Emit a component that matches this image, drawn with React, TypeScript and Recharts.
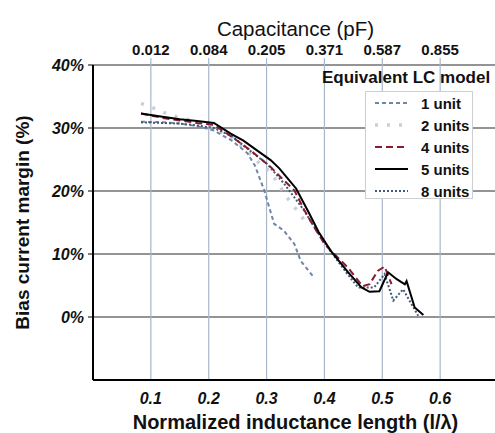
import { LineChart, Line, XAxis, YAxis, CartesianGrid, ReferenceLine } from "recharts";

// bottom axis: normalized inductance length, top axis: matching capacitance
const xTicks = [0.1, 0.2, 0.3, 0.4, 0.5, 0.6];
const capLabels = ["0.012", "0.084", "0.205", "0.371", "0.587", "0.855"];
const yTicks = [0, 10, 20, 30, 40];

// [l/λ, margin %]
const unit1 = [
  [0.083, 31.0], [0.12, 30.9], [0.15, 30.7], [0.18, 30.3], [0.209, 29.6], [0.24, 28.0],
  [0.267, 26.0], [0.28, 24.0], [0.296, 20.1], [0.313, 14.8], [0.33, 13.7], [0.348, 11.6],
  [0.359, 8.9], [0.38, 6.5],
];
const units2 = [
  [0.083, 33.9], [0.109, 33.0], [0.134, 32.0], [0.16, 31.5], [0.2, 30.3], [0.24, 28.5],
  [0.27, 26.0], [0.29, 24.2], [0.307, 23.0], [0.322, 20.9], [0.336, 18.9], [0.352, 17.0],
  [0.368, 15.0],
];
const units4 = [
  [0.083, 32.3], [0.12, 31.6], [0.15, 31.2], [0.18, 30.8], [0.209, 30.5], [0.24, 28.6],
  [0.273, 26.4], [0.307, 23.8], [0.33, 21.7], [0.348, 20.1], [0.365, 17.0], [0.38, 14.6],
  [0.4, 11.6], [0.417, 10.0], [0.44, 7.9], [0.466, 4.9], [0.478, 5.2], [0.492, 7.3],
  [0.504, 8.0], [0.516, 5.2],
];
const units5 = [
  [0.083, 32.3], [0.12, 31.8], [0.15, 31.4], [0.18, 31.1], [0.209, 30.8], [0.238, 29.1],
  [0.26, 28.0], [0.284, 26.4], [0.307, 24.9], [0.322, 23.6], [0.34, 21.6], [0.351, 20.4],
  [0.374, 16.4], [0.39, 13.5], [0.411, 10.5], [0.44, 7.2], [0.464, 4.7], [0.478, 4.0],
  [0.495, 4.1], [0.51, 7.1], [0.525, 6.0], [0.539, 5.2], [0.542, 5.7], [0.556, 1.5],
  [0.571, 0.3],
];
const units8 = [
  [0.083, 30.9], [0.12, 30.8], [0.15, 30.7], [0.18, 30.4], [0.209, 30.0], [0.24, 28.7],
  [0.267, 26.7], [0.301, 24.3], [0.33, 21.2], [0.365, 16.9], [0.39, 13.2], [0.41, 10.5],
  [0.44, 6.8], [0.458, 4.7], [0.486, 4.7], [0.504, 6.8], [0.519, 2.6], [0.536, 4.4],
  [0.562, 0.2],
];

const pts = (a: number[][]) => a.map(([x, y]) => ({ x, y }));

const series = [
  { name: "1 unit", data: unit1, color: "#6f86a6", width: 2, dash: "4 3" },
  { name: "2 units", data: units2, color: "#c6d0dc", width: 3.5, dash: "3 9" },
  { name: "4 units", data: units4, color: "#8a1a30", width: 2, dash: "7 4" },
  { name: "5 units", data: units5, color: "#000000", width: 2, dash: undefined },
  { name: "8 units", data: units8, color: "#3f5a7a", width: 2, dash: "2 2" },
];
// drawing order: black on top
const drawOrder = ["2 units", "1 unit", "8 units", "4 units", "5 units"];

const font = "'Liberation Sans', Arial, sans-serif";

export default function App() {
  return (
    <div style={{ position: "absolute", left: 0, top: 0, width: 495, height: 433, background: "#fff", fontFamily: font, overflow: "hidden" }}>
      <LineChart width={520} height={433} data={pts(units5)} margin={{ top: 0, right: 22, bottom: 0, left: 0 }}>
        <CartesianGrid vertical={false} stroke="#2a2a2a" strokeWidth={1.2} />
        {xTicks.map((v) => (
          <ReferenceLine key={v} x={v} stroke="#a9b7c8" strokeWidth={1.2} />
        ))}
        <XAxis
          dataKey="x" type="number" domain={[0, 0.7]} ticks={xTicks} height={53} allowDataOverflow
          axisLine={{ stroke: "#000", strokeWidth: 2 }} tickLine={false} tickMargin={7}
          tick={{ fill: "#111", fontSize: 16, fontWeight: 700, fontStyle: "italic", fontFamily: font }}
          label={{ value: "Normalized inductance length (l/λ)", position: "insideBottom", offset: 4,
            style: { fill: "#111", fontSize: 20, fontWeight: 700, fontFamily: font } }}
        />
        <XAxis
          xAxisId="top" orientation="top" dataKey="x" type="number" domain={[0, 0.7]} ticks={xTicks}
          allowDataOverflow height={65} axisLine={false} tickSize={7} tickMargin={3}
          tickLine={{ stroke: "#a9b7c8", strokeWidth: 1.2 }}
          tickFormatter={(v: number) => capLabels[xTicks.indexOf(v)] ?? ""}
          tick={{ fill: "#111", fontSize: 15, fontWeight: 700, fontFamily: font }}
          label={{ value: "Capacitance (pF)", position: "insideTop", offset: 21,
            style: { fill: "#111", fontSize: 20.5, fontFamily: font } }}
        />
        <YAxis
          type="number" domain={[-10, 40]} ticks={yTicks} width={93} allowDataOverflow
          axisLine={{ stroke: "#000", strokeWidth: 2 }} tickSize={5} tickMargin={4}
          tickLine={{ stroke: "#000" }}
          tickFormatter={(v: number) => `${v}%`}
          tick={{ fill: "#111", fontSize: 16, fontWeight: 700, fontStyle: "italic", fontFamily: font }}
          label={{ value: "Bias current margin (%)", angle: -90, position: "center", dx: -24,
            style: { fill: "#111", fontSize: 19, fontWeight: 700, fontFamily: font, textAnchor: "middle" } }}
        />
        {drawOrder.map((n) => {
          const s = series.find((d) => d.name === n)!;
          return (
            <Line
              key={s.name} data={pts(s.data)} dataKey="y" name={s.name} type="linear"
              stroke={s.color} strokeWidth={s.width} strokeDasharray={s.dash}
              dot={false} activeDot={false} isAnimationActive={false}
            />
          );
        })}
      </LineChart>

      <div style={{ position: "absolute", left: 322, top: 68, fontSize: 17, fontWeight: 700, color: "#111", whiteSpace: "nowrap" }}>
        Equivalent LC model
      </div>
      <div style={{
        position: "absolute", left: 365, top: 91, width: 106, height: 106,
        border: "1px solid #cfcfcf", background: "#fff",
      }}>
        {series.map((s) => (
          <div key={s.name} style={{ display: "flex", alignItems: "center", height: 22 }}>
            <svg width={44} height={10} style={{ marginLeft: 9 }}>
              <line x1={0} y1={5} x2={33} y2={5} stroke={s.color} strokeWidth={s.width} strokeDasharray={s.dash} />
            </svg>
            <span style={{ fontSize: 15, fontWeight: 700, color: "#111", marginLeft: 2 }}>{s.name}</span>
          </div>
        ))}
      </div>
    </div>
  );
}
